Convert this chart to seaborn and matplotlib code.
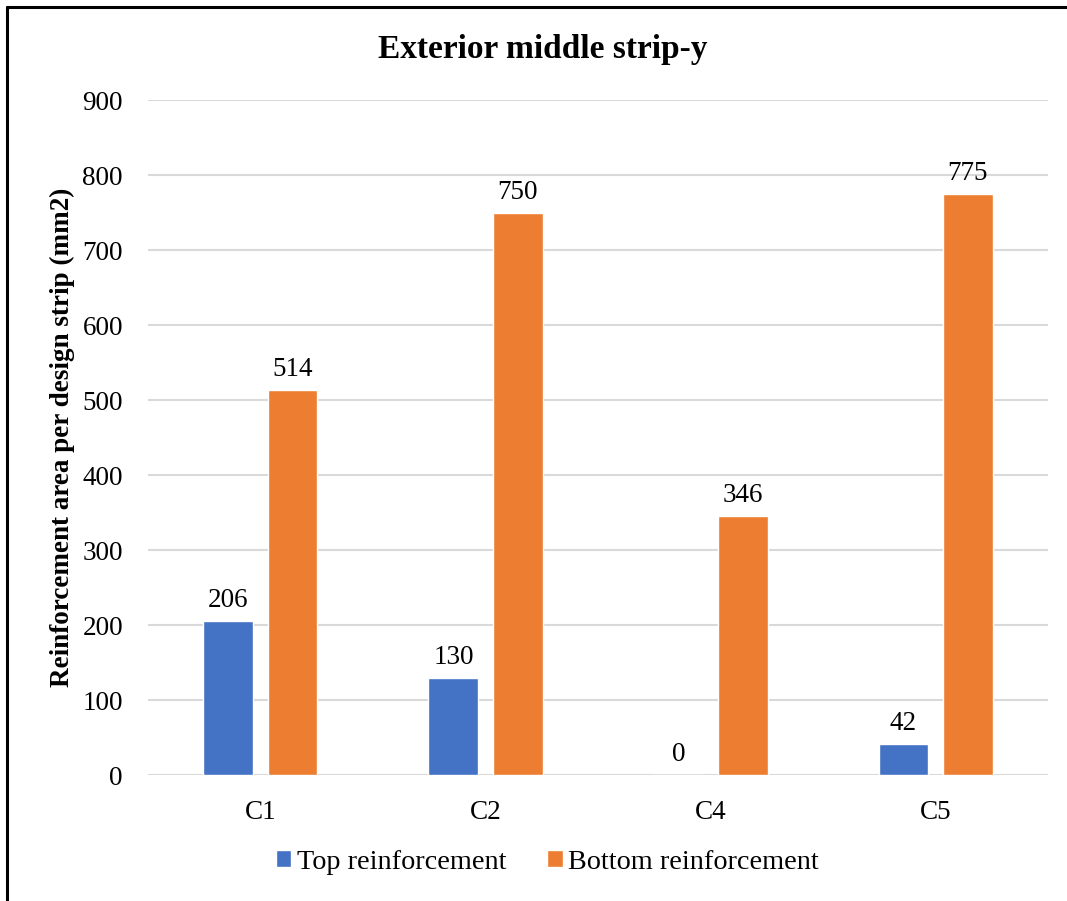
import matplotlib
matplotlib.use("Agg")
import matplotlib.pyplot as plt
from matplotlib.lines import Line2D
import seaborn as sns
import pandas as pd

columns = ["C1", "C2", "C4", "C5"]
top_reinforcement = [206, 130, 0, 42]
bottom_reinforcement = [514, 750, 346, 775]
series_names = ["Top reinforcement", "Bottom reinforcement"]
colors = ["#4472C4", "#ED7D31"]

df = pd.DataFrame({
    "Column": columns * 2,
    "Area": top_reinforcement + bottom_reinforcement,
    "Series": [series_names[0]] * len(columns) + [series_names[1]] * len(columns),
})

sns.set_theme(style="white")
plt.rcParams["font.family"] = ["Liberation Serif", "DejaVu Serif"]
plt.rcParams["text.color"] = "black"
plt.rcParams["axes.labelcolor"] = "black"

fig = plt.figure(figsize=(10.67, 9.01), dpi=100)
ax = fig.add_axes([0.1387, 0.1398, 0.8435, 0.7492])

sns.barplot(data=df, x="Column", y="Area", hue="Series", hue_order=series_names,
            palette=colors, width=0.569, gap=0.219, saturation=1,
            ax=ax, legend=True, zorder=3)

ax.set_ylim(0, 900)
ax.set_yticks(range(0, 901, 100))
ax.yaxis.grid(True, color="#d9d9d9", linewidth=1.5, zorder=0)
ax.set_axisbelow(True)
for s in ax.spines.values():
    s.set_visible(False)
ax.tick_params(axis="both", length=0, labelsize=19.5, colors="black")
ax.tick_params(axis="y", pad=18)
ax.tick_params(axis="x", pad=18)
ax.set_xlabel("")
ax.set_ylabel("Reinforcement area per design strip (mm2)", fontsize=19.5,
              fontweight="bold", labelpad=5, color="black")

for container in ax.containers:
    ax.bar_label(container, fmt="%d", padding=5.5, fontsize=19.5, color="black")

fig.suptitle("Exterior middle strip-y", x=0.509, y=0.945, va="center",
             fontsize=24, fontweight="bold", color="black")

handles, labels = ax.get_legend_handles_labels()
ax.get_legend().remove()
fig.legend(handles, labels, loc="center", bbox_to_anchor=(0.513, 0.043), ncol=2,
           frameon=False, fontsize=20.3, handlelength=0.55, handleheight=0.55,
           handletextpad=0.2, columnspacing=1.45)

# outer frame: left and top edges
frame_kw = dict(transform=fig.transFigure, color="black", linewidth=2.2,
                solid_capstyle="butt")
fig.add_artist(Line2D([0.0066, 0.0066], [-0.01, 0.9934], **frame_kw))
fig.add_artist(Line2D([0.0056, 1.01], [0.9922, 0.9922], **frame_kw))

fig.savefig("out.png", dpi=100, facecolor="white")
